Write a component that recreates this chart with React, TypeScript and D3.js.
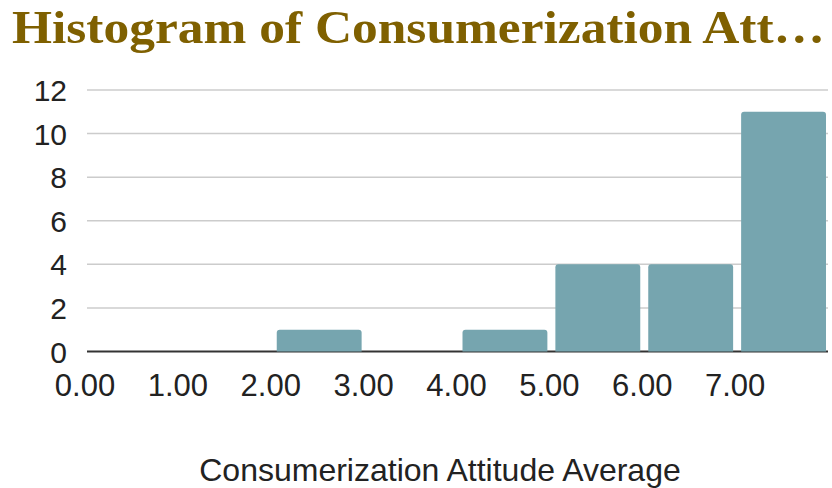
import React, { useEffect, useRef } from "react";
import * as d3 from "d3";

// histogram bins (lower edge, upper edge) and counts
const binStarts = [0, 1, 2, 3, 4, 5, 6, 7];
const binEnds = [1, 2, 3, 4, 5, 6, 7, 8];
const counts = [0, 0, 1, 0, 1, 4, 4, 11];
const xTicks = [0, 1, 2, 3, 4, 5, 6, 7];
const yTicks = [0, 2, 4, 6, 8, 10, 12];

const title = "Histogram of Consumerization Att\u2026";
const xTitle = "Consumerization Attitude Average";

const W = 832;
const H = 488;

export default function App() {
  const svgRef = useRef<SVGSVGElement>(null);

  useEffect(() => {
    if (!svgRef.current) return;
    const svg = d3.select(svgRef.current);
    svg.selectAll("*").remove();

    const left = 87;
    const right = 830;
    const top = 90;
    const bottom = 351.5;
    const sans = "'Liberation Sans', Arial, sans-serif";

    const x = d3.scaleLinear().domain([0, 8]).range([left, right]);
    const y = d3.scaleLinear().domain([0, 12]).range([bottom, top]);

    // title
    svg
      .append("text")
      .attr("x", 12)
      .attr("y", 43)
      .attr("font-family", "'Liberation Serif', 'Times New Roman', serif")
      .attr("font-weight", "bold")
      .attr("font-size", 46)
      .attr("fill", "#7f6000")
      .attr("textLength", 813)
      .attr("lengthAdjust", "spacingAndGlyphs")
      .text(title);

    // grid
    svg
      .append("g")
      .selectAll("line")
      .data(yTicks.filter((t) => t !== 0))
      .join("line")
      .attr("x1", left)
      .attr("x2", 828)
      .attr("y1", (d) => y(d))
      .attr("y2", (d) => y(d))
      .attr("stroke", "#cccccc")
      .attr("stroke-width", 1.5);

    // y labels
    svg
      .append("g")
      .selectAll("text")
      .data(yTicks)
      .join("text")
      .attr("x", 67)
      .attr("y", (d) => y(d))
      .attr("dy", "0.37em")
      .attr("text-anchor", "end")
      .attr("font-family", sans)
      .attr("font-size", 30)
      .attr("fill", "#222")
      .text((d) => d);

    // baseline
    svg
      .append("line")
      .attr("x1", left)
      .attr("x2", 828)
      .attr("y1", y(0))
      .attr("y2", y(0))
      .attr("stroke", "#333")
      .attr("stroke-width", 2);

    // bars
    const gap = 4;
    svg
      .append("g")
      .selectAll("path")
      .data(binStarts.map((s, i) => ({ s, e: binEnds[i], c: counts[i] })).filter((d) => d.c > 0))
      .join("path")
      .attr("fill", "#76a5af")
      .attr("d", (d) => {
        const x0 = x(d.s) + gap;
        const x1 = x(d.e) - gap;
        const y0 = y(d.c);
        const y1 = y(0);
        const r = 3;
        return `M${x0},${y1}V${y0 + r}Q${x0},${y0} ${x0 + r},${y0}H${x1 - r}Q${x1},${y0} ${x1},${y0 + r}V${y1}Z`;
      });

    // x labels
    svg
      .append("g")
      .selectAll("text")
      .data(xTicks)
      .join("text")
      .attr("x", (d) => x(d) - 2)
      .attr("y", 396)
      .attr("text-anchor", "middle")
      .attr("font-family", sans)
      .attr("font-size", 31)
      .attr("fill", "#222")
      .text((d) => d3.format(".2f")(d));

    // x title
    svg
      .append("text")
      .attr("x", 440)
      .attr("y", 481)
      .attr("text-anchor", "middle")
      .attr("font-family", sans)
      .attr("font-size", 32)
      .attr("fill", "#222")
      .text(xTitle);
  }, []);

  return (
    <div style={{ position: "absolute", left: 0, top: 0, width: W, height: H, background: "#fff" }}>
      <svg ref={svgRef} width={W} height={H} />
    </div>
  );
}
